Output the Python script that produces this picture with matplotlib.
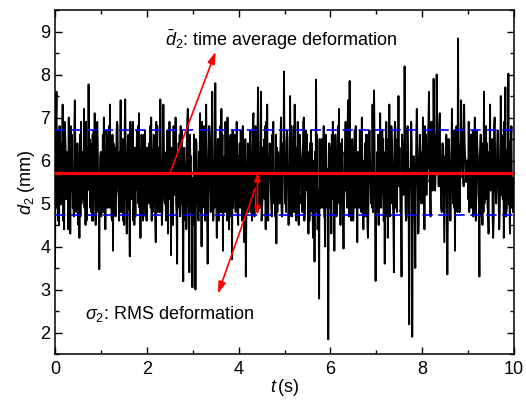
import numpy as np
import matplotlib
matplotlib.use("Agg")
import matplotlib.pyplot as plt
from matplotlib.ticker import MultipleLocator

plt.rcParams['font.family'] = ['Liberation Sans', 'DejaVu Sans']
plt.rcParams['mathtext.fontset'] = 'custom'
plt.rcParams['mathtext.rm'] = 'Liberation Sans'
plt.rcParams['mathtext.it'] = 'Liberation Sans:italic'
plt.rcParams['mathtext.bf'] = 'Liberation Sans:bold'
plt.rcParams['lines.scale_dashes'] = False

# deformation signal d2 (mm), read off the picture second by second
# s*: main samples (incl. the extremes), a*/b*: in-between samples of the dense band
s0 = [3.5, 7.6, 4.6, 6.8, 5.0, 7.3, 4.4, 6.2, 5.5, 7.0, 4.3, 6.6, 5.2, 7.4, 4.8, 6.1, 4.2, 6.9, 5.6, 7.2,
      4.5, 6.3, 7.77, 4.9, 6.0, 4.6, 7.1, 5.3, 6.4, 3.47]
a0 = [5.8, 4.9, 6.7, 5.2, 6.4, 4.6, 6.9, 5.1, 6.2, 4.8, 6.8, 5.5, 4.7, 6.3, 5.9, 4.5, 6.6, 5.0, 6.1, 4.9,
      6.9, 5.3, 5.6, 6.4, 4.6, 6.7, 5.1, 6.0, 4.8, 5.6]
b0 = [6.9, 5.4, 4.5, 6.3, 5.7, 4.8, 6.6, 5.9, 4.4, 6.5, 5.3, 4.9, 6.7, 5.0, 6.4, 5.8, 4.7, 6.2, 5.1, 6.8,
      4.6, 5.9, 6.5, 4.8, 6.6, 5.2, 4.5, 6.9, 5.4, 6.1]
s1 = [6.2, 5.0, 7.0, 4.4, 6.5, 5.4, 7.3, 4.7, 3.9, 6.3, 5.1, 6.8, 4.6, 7.4, 5.2, 6.0, 7.42, 4.3, 6.6, 3.77,
      5.8, 6.9, 4.5, 6.2, 5.3, 7.1, 4.2, 6.4, 5.0, 6.7]
a1 = [4.7, 6.6, 5.2, 6.1, 4.9, 6.8, 5.5, 4.6, 6.4, 5.0, 6.7, 5.3, 6.2, 4.8, 6.5, 4.5, 6.0, 5.7, 4.9, 6.9,
      5.1, 4.6, 6.3, 5.6, 6.8, 4.9, 6.2, 5.0, 6.6, 4.7]
b1 = [6.0, 4.8, 5.6, 6.7, 5.4, 4.9, 6.1, 6.6, 5.0, 4.7, 6.9, 5.2, 5.8, 6.3, 4.6, 6.8, 5.1, 6.4, 4.8, 5.9,
      6.5, 5.2, 4.7, 6.7, 5.0, 5.8, 6.6, 4.6, 6.1, 5.3]
s2 = [4.6, 6.1, 5.4, 7.0, 4.8, 6.5, 4.1, 6.8, 5.6, 7.42, 4.5, 7.3, 5.0, 6.2, 4.3, 6.9, 3.8, 6.0, 5.2, 7.0,
      3.6, 6.4, 4.7, 6.7, 3.19, 5.9, 4.4, 7.2, 3.4, 6.1]
a2 = [6.3, 5.0, 6.8, 4.6, 6.2, 5.3, 6.9, 4.8, 6.0, 5.6, 4.9, 6.5, 5.7, 4.7, 6.6, 5.1, 6.3, 4.5, 6.7, 5.0,
      6.2, 4.9, 6.8, 5.2, 5.9, 4.6, 6.4, 5.0, 6.6, 4.8]
b2 = [5.2, 6.4, 4.9, 5.9, 6.6, 4.7, 5.5, 6.3, 4.8, 6.0, 6.4, 5.1, 4.6, 6.7, 5.4, 6.1, 4.9, 6.8, 5.3, 4.7,
      5.8, 6.6, 5.0, 4.8, 6.3, 5.5, 6.9, 4.5, 6.0, 5.2]
s3 = [3.05, 6.6, 3.0, 5.8, 4.6, 7.1, 4.0, 6.3, 5.1, 7.3, 3.6, 6.8, 4.8, 7.6, 5.4, 7.8, 4.2, 6.5, 5.0, 7.2,
      3.9, 6.1, 5.6, 7.0, 4.4, 6.6, 3.7, 6.2, 5.1, 6.9]
a3 = [5.6, 4.7, 6.5, 5.1, 6.2, 4.8, 6.9, 5.4, 4.6, 6.3, 5.0, 6.6, 5.3, 6.1, 4.9, 6.4, 5.7, 4.6, 6.8, 5.2,
      6.0, 4.8, 6.5, 5.5, 6.2, 4.7, 6.7, 5.1, 4.8, 6.3]
b3 = [4.5, 5.9, 6.4, 4.8, 5.6, 6.3, 4.9, 6.8, 5.2, 4.7, 6.1, 5.5, 6.7, 4.6, 6.2, 5.0, 6.5, 5.3, 4.8, 6.6,
      5.1, 6.9, 4.6, 5.8, 6.4, 5.2, 4.9, 6.6, 5.4, 4.7]
s4 = [4.5, 6.4, 5.3, 6.8, 4.1, 3.3, 6.0, 5.1, 6.7, 4.6, 7.1, 5.5, 6.3, 7.7, 4.9, 7.6, 5.2, 6.5, 4.4, 7.3,
      5.7, 6.0, 4.7, 6.9, 5.4, 4.07, 6.2, 5.0, 7.0, 4.8]
a4 = [6.1, 4.9, 6.6, 5.3, 5.8, 4.7, 6.4, 5.5, 4.8, 6.2, 5.0, 6.8, 4.9, 6.5, 5.6, 4.6, 6.3, 5.1, 6.9, 4.8,
      6.0, 5.4, 6.6, 5.0, 4.7, 6.3, 5.2, 6.1, 4.9, 6.4]
b4 = [5.3, 6.7, 4.6, 5.7, 6.5, 5.0, 4.8, 6.4, 5.4, 6.9, 4.7, 5.9, 6.6, 5.1, 6.2, 4.9, 5.6, 6.8, 5.2, 4.6,
      6.4, 5.0, 6.1, 5.7, 6.6, 4.8, 5.5, 6.3, 4.7, 6.0]
s5 = [8.07, 5.3, 6.7, 4.5, 7.5, 5.0, 6.3, 7.3, 4.6, 6.9, 5.5, 6.1, 4.8, 7.0, 5.2, 6.6, 4.3, 6.4, 5.7, 4.2,
      3.65, 7.88, 4.4, 2.79, 6.2, 4.9, 6.8, 4.0, 5.5, 1.84]
a5 = [6.2, 4.8, 6.5, 5.2, 6.0, 4.7, 6.8, 5.4, 6.3, 4.9, 6.6, 5.0, 6.1, 4.6, 6.7, 5.3, 5.9, 4.8, 6.4, 5.1,
      6.2, 5.6, 4.9, 6.5, 5.0, 6.3, 4.7, 6.6, 4.9, 5.4]
b5 = [5.0, 6.4, 5.5, 4.7, 6.8, 5.9, 4.8, 6.1, 5.6, 4.5, 6.3, 5.2, 6.9, 4.9, 5.7, 6.2, 4.6, 6.7, 5.1, 6.0,
      4.8, 6.6, 5.3, 4.9, 6.5, 5.6, 4.7, 6.2, 5.8, 6.4]
s6 = [5.9, 4.3, 6.9, 3.9, 6.2, 5.2, 7.2, 4.5, 6.5, 3.95, 6.0, 5.4, 7.4, 7.85, 4.6, 6.3, 5.0, 6.8, 4.1, 6.1,
      5.6, 7.0, 4.4, 6.4, 5.3, 4.2, 6.7, 5.0, 7.3, 7.63]
a6 = [4.9, 6.6, 5.2, 6.1, 4.7, 6.8, 5.0, 6.3, 5.5, 4.8, 6.9, 4.9, 6.4, 5.2, 6.0, 4.6, 6.7, 5.3, 6.2, 4.9,
      6.5, 5.1, 5.8, 4.7, 6.6, 5.0, 6.1, 5.4, 4.8, 6.3]
b6 = [6.3, 5.1, 5.7, 6.6, 4.8, 5.5, 6.4, 5.9, 4.6, 6.2, 5.3, 6.8, 4.7, 5.8, 6.5, 5.0, 4.9, 6.1, 5.6, 6.7,
      4.8, 6.0, 5.2, 6.6, 4.5, 6.3, 5.4, 4.9, 6.8, 5.1]
s7 = [3.2, 6.2, 4.5, 7.1, 5.3, 6.5, 3.6, 6.9, 4.2, 7.3, 5.0, 6.0, 3.4, 6.7, 4.8, 7.5, 5.5, 3.3, 6.4, 8.19,
      4.6, 6.8, 2.19, 5.6, 1.9, 6.1, 3.5, 7.2, 4.3, 6.6]
a7 = [5.6, 4.8, 6.4, 5.1, 6.7, 4.6, 6.2, 5.3, 6.0, 4.7, 6.8, 5.0, 6.3, 4.9, 6.5, 5.4, 4.8, 6.6, 5.2, 6.1,
      4.7, 6.3, 5.0, 6.9, 4.6, 5.9, 5.3, 6.5, 4.8, 6.2]
b7 = [4.8, 6.6, 5.4, 4.9, 6.2, 5.7, 4.7, 6.5, 5.1, 5.8, 6.4, 4.6, 6.9, 5.2, 5.6, 6.3, 4.9, 6.1, 5.5, 4.8,
      6.7, 5.0, 5.8, 6.4, 5.2, 4.7, 6.6, 5.3, 6.0, 5.1]
s8 = [5.0, 7.0, 4.4, 6.6, 5.8, 7.6, 4.7, 6.9, 7.9, 5.3, 8.0, 6.2, 7.1, 4.9, 6.4, 4.1, 5.9, 3.35, 6.5, 4.6,
      7.2, 5.4, 3.9, 6.8, 8.84, 4.8, 7.4, 5.6, 7.3, 6.0]
a8 = [6.2, 5.0, 6.8, 5.2, 6.4, 5.5, 6.9, 5.3, 6.5, 5.8, 6.7, 5.4, 6.0, 4.8, 6.3, 5.1, 6.6, 4.7, 6.1, 5.2,
      6.4, 4.9, 6.2, 5.6, 6.5, 5.3, 6.8, 5.7, 6.4, 5.5]
b8 = [5.4, 6.5, 5.8, 6.0, 6.9, 5.6, 6.3, 5.9, 6.6, 6.2, 5.7, 6.8, 5.5, 6.4, 5.2, 6.1, 4.9, 6.5, 5.3, 6.0,
      5.0, 6.7, 5.5, 4.8, 6.2, 5.9, 6.6, 5.4, 6.1, 5.7]
s9 = [5.5, 6.9, 5.2, 6.3, 4.7, 7.0, 5.8, 6.1, 3.3, 6.6, 4.5, 7.6, 5.1, 6.4, 4.3, 7.3, 5.6, 4.2, 7.0, 5.0,
      6.7, 4.4, 7.5, 5.3, 4.2, 7.7, 4.9, 8.02, 4.3, 6.8, 4.8]
a9 = [6.0, 4.8, 6.6, 5.1, 6.3, 4.9, 6.7, 5.2, 6.1, 4.7, 6.4, 5.0, 6.8, 4.9, 6.2, 5.3, 6.5, 4.6, 6.0, 5.4,
      6.3, 4.8, 6.6, 5.1, 6.9, 4.7, 6.2, 5.0, 6.4, 4.9, 5.6]
b9 = [5.1, 6.2, 4.9, 6.7, 5.6, 4.6, 6.3, 5.0, 6.6, 5.2, 4.8, 6.5, 5.7, 4.9, 6.1, 5.4, 4.7, 6.8, 5.3, 6.4,
      4.9, 6.0, 5.2, 6.6, 5.5, 4.8, 6.3, 5.1, 6.5, 5.4, 5.0]

main = s0 + s1 + s2 + s3 + s4 + s5 + s6 + s7 + s8 + s9
mid_a = a0 + a1 + a2 + a3 + a4 + a5 + a6 + a7 + a8 + a9
mid_b = b0 + b1 + b2 + b3 + b4 + b5 + b6 + b7 + b8 + b9
d2 = [v for trio in zip(main, mid_a, mid_b) for v in trio]
t = np.linspace(0, 10, len(d2))

mean_d2 = 5.72
rms_d2 = 0.99

fig = plt.figure(figsize=(5.26, 4.05), dpi=100)
ax = fig.add_axes([55 / 526, 51 / 405, 459 / 526, 344 / 405])

ax.plot(t, d2, color='black', lw=1.35, zorder=2)
ax.axhline(mean_d2, color='#ff0000', lw=2.3, zorder=3)
ax.axhline(mean_d2 + rms_d2, color='#0000ff', lw=1.2, dashes=(7.5, 4), zorder=3)
ax.axhline(mean_d2 - rms_d2, color='#0000ff', lw=1.2, dashes=(7.5, 4), zorder=3)

ax.set_xlim(0, 10)
ax.set_ylim(1.5, 9.5)
ax.xaxis.set_major_locator(MultipleLocator(2))
ax.xaxis.set_minor_locator(MultipleLocator(1))
ax.yaxis.set_major_locator(MultipleLocator(1))
ax.yaxis.set_minor_locator(MultipleLocator(0.5))
ax.tick_params(which='both', direction='in', top=True, right=True, width=1, labelsize=13)
ax.tick_params(which='major', length=5)
ax.tick_params(which='minor', length=3)
ax.tick_params(axis='x', pad=5)
for sp in ax.spines.values():
    sp.set_linewidth(1.1)

ax.set_xlabel(r'$t\,$(s)', fontsize=13, labelpad=-1)
ax.set_ylabel(r'$d_2$ (mm)', fontsize=13, labelpad=2)

red = '#ff0000'
ax.text(2.40, 8.81, r'$\bar{d}_2$: time average deformation', fontsize=13, va='center', ha='left')
ax.text(0.65, 2.42, r'$\sigma_2$: RMS deformation', fontsize=13, va='center', ha='left')

ax.annotate('', xy=(3.50, 8.53), xytext=(2.51, mean_d2),
            arrowprops=dict(arrowstyle='-|>,head_length=0.7,head_width=0.22', color=red, lw=1.2,
                            shrinkA=0, shrinkB=0), zorder=4)
ax.annotate('', xy=(3.55, 2.90), xytext=(4.36, 5.35),
            arrowprops=dict(arrowstyle='-|>,head_length=0.7,head_width=0.22', color=red, lw=1.2,
                            shrinkA=0, shrinkB=0), zorder=4)
ax.annotate('', xy=(4.41, mean_d2 - rms_d2), xytext=(4.41, mean_d2),
            arrowprops=dict(arrowstyle='<|-|>,head_length=0.5,head_width=0.18', color=red, lw=1.2,
                            shrinkA=0, shrinkB=0), zorder=4)

fig.savefig('out.png', dpi=100)
